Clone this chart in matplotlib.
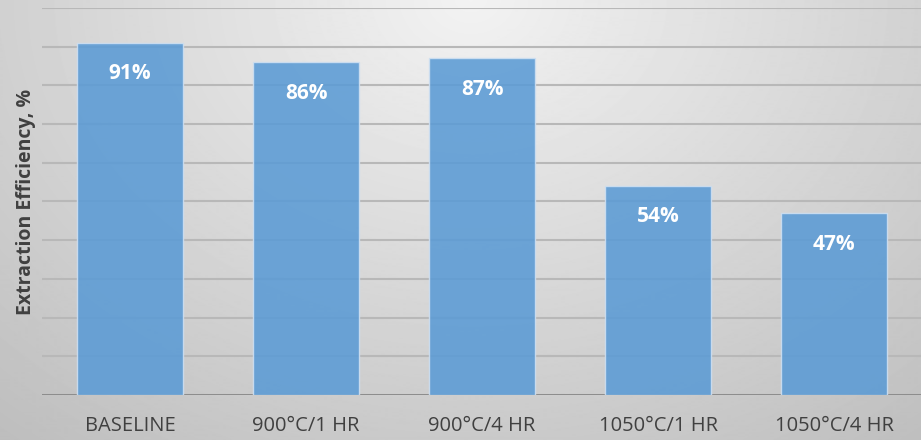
import matplotlib.pyplot as plt
import numpy as np

# extraction efficiency per heat treatment
categories = ['BASELINE', '900°C/1 HR', '900°C/4 HR', '1050°C/1 HR', '1050°C/4 HR']
efficiency = [91, 86, 87, 54, 47]

plt.rcParams['font.family'] = ['Open Sans', 'DejaVu Sans']

fig = plt.figure(figsize=(9.21, 4.40), dpi=100)

# soft grey background, light at top centre and darker towards the edges
bg = fig.add_axes([0, 0, 1, 1], zorder=-10)
yy, xx = np.mgrid[0:440, 0:921]
d = np.sqrt(((xx - 470) / 600.0) ** 2 + (yy / 470.0) ** 2)
shade = np.clip(0.95 - 0.17 * d, 0, 1)
bg.imshow(shade, cmap='gray', vmin=0, vmax=1, aspect='auto', extent=[0, 1, 0, 1])
bg.axis('off')

ax = fig.add_axes([42 / 921, 45 / 440, 880 / 921, 387 / 440])
ax.patch.set_alpha(0)

x = np.arange(len(categories))
bars = ax.bar(x, efficiency, width=0.6, color='#5b9bd5', alpha=0.88,
              edgecolor='#cfe0f2', linewidth=1.0, zorder=3)

for xi, v in zip(x, efficiency):
    ax.text(xi, v - 8, f'{v}%', ha='center', va='center', color='white',
            fontsize=15, fontweight='bold', zorder=4)

ax.set_xlim(-0.5, 4.5)
ax.set_ylim(0, 100)
ax.set_yticks(np.arange(0, 101, 10))
ax.set_yticklabels([])
ax.tick_params(axis='y', length=0)
ax.yaxis.grid(True, color='#b8b8b8', linewidth=1.5, zorder=1)
ax.set_axisbelow(True)
ax.axhline(0, color='#808080', linewidth=1.8, zorder=2)

ax.set_xticks(x)
ax.set_xticklabels(categories, fontsize=14.5, color='#404040')
ax.tick_params(axis='x', length=0, pad=15)

for s in ax.spines.values():
    s.set_visible(False)

ax.set_ylabel('Extraction Efficiency, %', fontsize=14, fontweight='bold',
              color='#404040', labelpad=1)

fig.savefig('out.png', dpi=100)
